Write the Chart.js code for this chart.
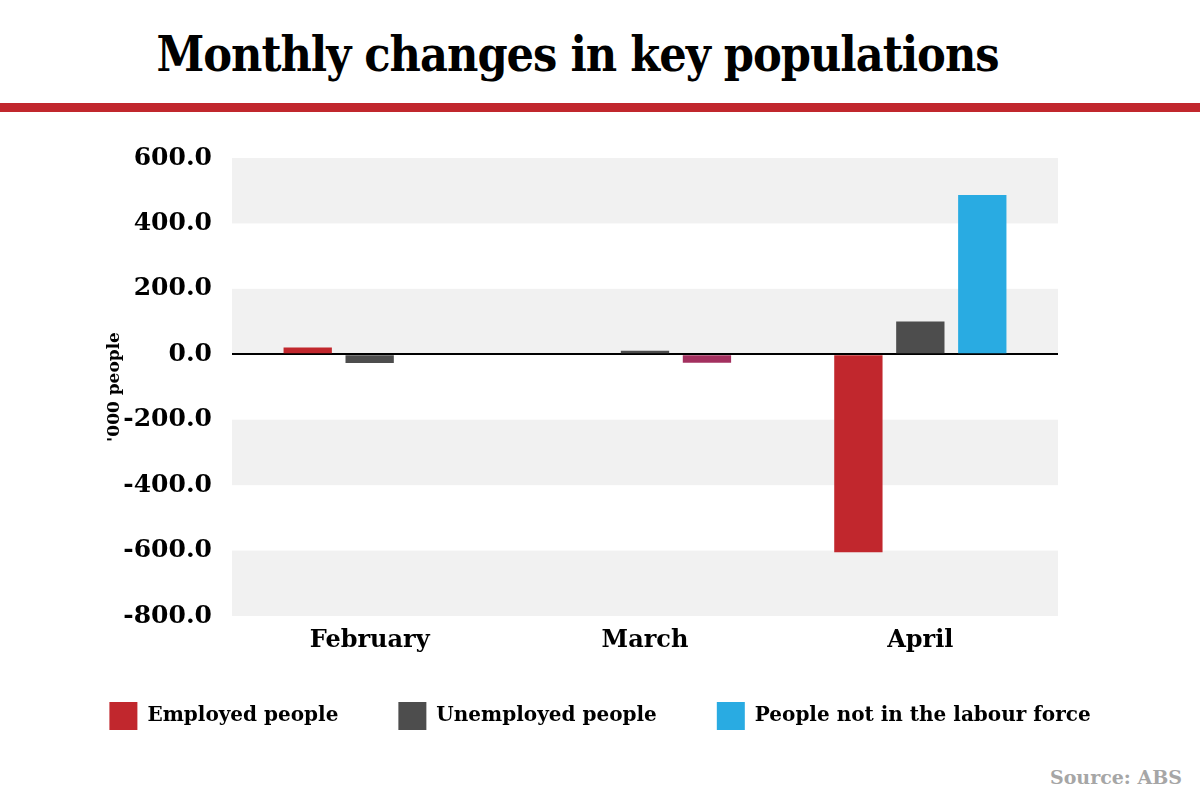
<!DOCTYPE html>
<html>
<head>
<meta charset="utf-8">
<title>Monthly changes in key populations</title>
<script src="https://cdn.jsdelivr.net/npm/chart.js@4.4.1/dist/chart.umd.min.js"></script>
<style>
  body { margin: 0; width: 1200px; height: 800px; background: #fff; position: relative; overflow: hidden; font-family: "DejaVu Serif", serif; }
  #title { position: absolute; top: 26px; left: 0; width: 1155px; text-align: center; font-family: "DejaVu Serif Condensed", "DejaVu Serif", serif; font-stretch: condensed; font-weight: bold; font-size: 48px; color: #000; letter-spacing: -1px; }
  #rule { position: absolute; top: 103px; left: 0; width: 1200px; height: 9px; background: #c1272d; }
  #wrap { position: absolute; top: 120px; left: 0; width: 1200px; height: 620px; }
  #source { position: absolute; top: 766px; right: 18px; font-weight: bold; font-size: 19px; color: #a6a6a6; }
</style>
</head>
<body>
<div id="title">Monthly changes in key populations</div>
<div id="rule"></div>
<div id="wrap"><canvas id="chart"></canvas></div>
<div id="source">Source: ABS</div>
<script>
const months = ["February", "March", "April"];
const employed = [21, 0, -605];
const unemployed = [-27, 11, 100];
const notInLabourForce = [0, -26, 487];
const yTicks = [600, 400, 200, 0, -200, -400, -600, -800];

const serif = "'DejaVu Serif', serif";

// grey bands between every other pair of ticks
const bands = {
    id: "bands",
    afterLayout(chart) {
        // x labels hang into the legend's top padding, so don't clip them to the axis box
        const x = chart.scales.x;
        x.bottom = x.top + 60;
    },
    beforeDraw(chart) {
        const ctx = chart.ctx;
        const area = chart.chartArea;
        const y = chart.scales.y;
        ctx.save();
        ctx.fillStyle = "#f1f1f1";
        for (let i = 0; i + 1 < yTicks.length; i += 2) {
            const top = y.getPixelForValue(yTicks[i]);
            const bottom = y.getPixelForValue(yTicks[i + 1]);
            ctx.fillRect(area.left, top, area.right - area.left, bottom - top);
        }
        ctx.restore();
    }
};

new Chart(document.getElementById("chart"), {
    type: "bar",
    data: {
        labels: months,
        datasets: [
            {label: "Employed people", data: employed, backgroundColor: "#c1272d"},
            {label: "Unemployed people", data: unemployed, backgroundColor: "#4d4d4d"},
            {label: "People not in the labour force", data: notInLabourForce,
             backgroundColor: ["#29abe2", "#a3305f", "#29abe2"]}
        ]
    },
    options: {
        responsive: true,
        maintainAspectRatio: false,
        animation: false,
        datasets: {bar: {categoryPercentage: 0.675, barPercentage: 0.78}},
        layout: {padding: {top: 38, left: 0, right: 0, bottom: 0}},
        plugins: {
            tooltip: {enabled: false},
            legend: {
                position: "bottom",
                labels: {
                    boxWidth: 28,
                    boxHeight: 28,
                    padding: 60,
                    color: "#000",
                    font: {family: serif, size: 20, weight: "bold"},
                    generateLabels(chart) {
                        return chart.data.datasets.map((ds, i) => ({
                            text: ds.label,
                            fillStyle: Array.isArray(ds.backgroundColor) ? ds.backgroundColor[0] : ds.backgroundColor,
                            strokeStyle: "transparent",
                            lineWidth: 0,
                            datasetIndex: i
                        }));
                    }
                }
            }
        },
        scales: {
            x: {
                grid: {display: false},
                border: {display: false},
                afterFit(scale) {
                    scale.height = 26;
                },
                ticks: {color: "#000", padding: 2, font: {family: serif, size: 24, weight: "bold"}}
            },
            y: {
                min: -800,
                max: 600,
                afterBuildTicks(scale) {
                    scale.ticks = yTicks.map(v => ({value: v}));
                },
                afterFit(scale) {
                    scale.width = 232;
                },
                grid: {
                    drawTicks: false,
                    lineWidth: 2,
                    color: c => c.tick && c.tick.value === 0 ? "#000" : "rgba(0,0,0,0)"
                },
                border: {display: false},
                title: {
                    display: true,
                    text: "'000 people",
                    color: "#000",
                    padding: {top: 104, bottom: 0},
                    font: {family: serif, size: 17, weight: "bold"}
                },
                ticks: {
                    color: "#000",
                    padding: 20,
                    font: {family: serif, size: 25, weight: "bold"},
                    callback: v => v.toFixed(1)
                }
            },
            // empty right-hand axis, only reserves the right margin
            yRight: {
                position: "right",
                display: true,
                afterFit(scale) {
                    scale.width = 142;
                },
                grid: {display: false},
                border: {display: false},
                ticks: {display: false}
            }
        }
    },
    plugins: [bands]
});
</script>
</body>
</html>
